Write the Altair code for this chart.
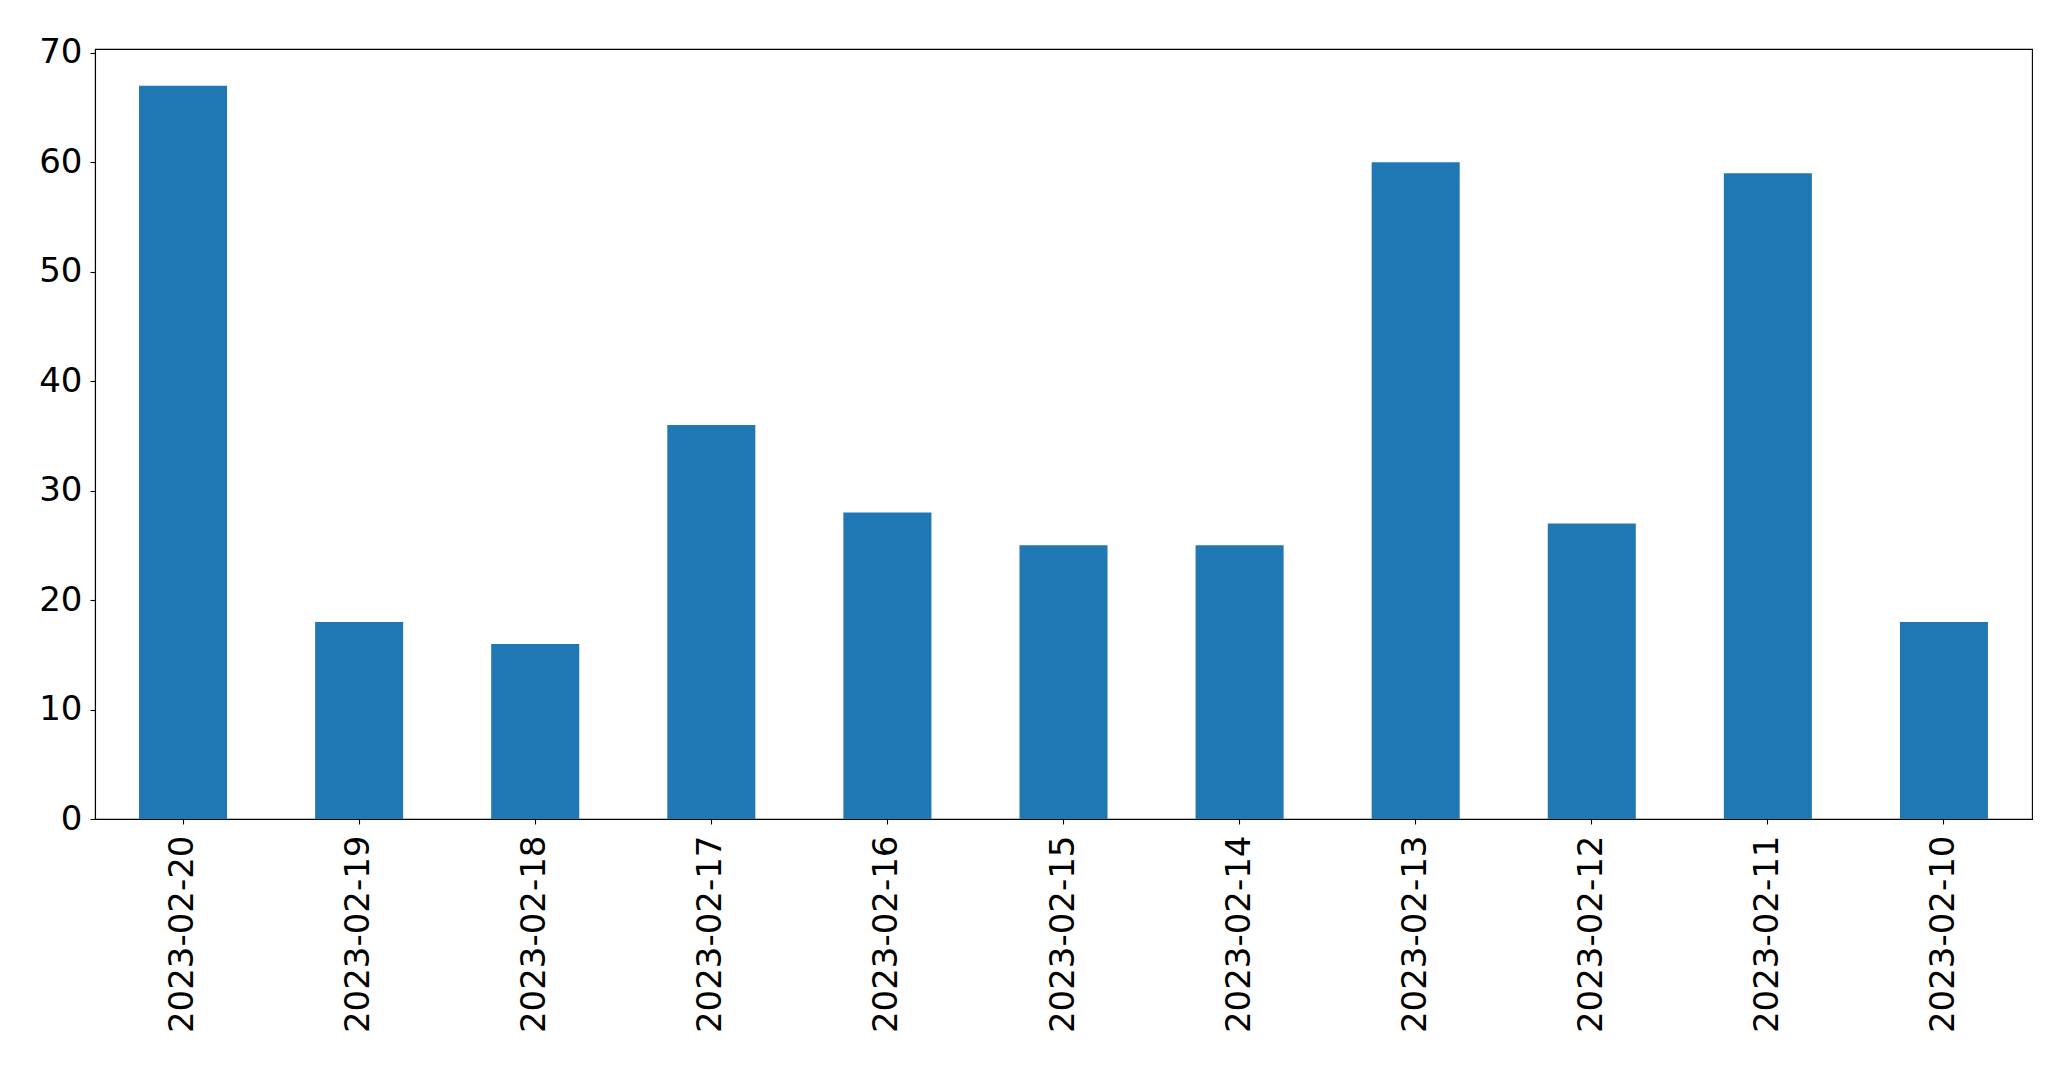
import altair as alt
import pandas as pd

dates = ["2023-02-20", "2023-02-19", "2023-02-18", "2023-02-17", "2023-02-16",
         "2023-02-15", "2023-02-14", "2023-02-13", "2023-02-12", "2023-02-11",
         "2023-02-10"]
counts = [67, 18, 16, 36, 28, 25, 25, 60, 27, 59, 18]

df = pd.DataFrame({"date": dates, "count": counts})

FONT = "DejaVu Sans"

chart = alt.Chart(df).mark_bar(color="#1f77b4").encode(
    x=alt.X("date:N", sort=dates, title=None,
            scale=alt.Scale(paddingInner=0.5, paddingOuter=0.25),
            axis=alt.Axis(labelAngle=270, labelAlign="right", labelBaseline="middle",
                          labelFontSize=34, labelFont=FONT, labelColor="black",
                          labelLimit=0,
                          tickSize=5, tickColor="black", tickWidth=1.1,
                          domainColor="black", domainWidth=1.1, labelPadding=11,
                          grid=False)),
    y=alt.Y("count:Q", title=None,
            scale=alt.Scale(domain=[0, 70.35], nice=False, zero=True),
            axis=alt.Axis(values=[0, 10, 20, 30, 40, 50, 60, 70],
                          labelFontSize=34, labelFont=FONT, labelColor="black",
                          tickSize=5, tickColor="black", tickWidth=1.1,
                          domainColor="black", domainWidth=1.1, labelPadding=8,
                          grid=False)),
).properties(
    width=1937,
    height=770,
    background="white",
    autosize=alt.AutoSizeParams(type="none"),
    padding={"left": 87, "top": 41, "right": 30, "bottom": 240},
).configure_view(
    stroke="black",
    strokeWidth=1.1,
)

chart.save("out.html", embed_options={"renderer": "svg", "actions": False})
